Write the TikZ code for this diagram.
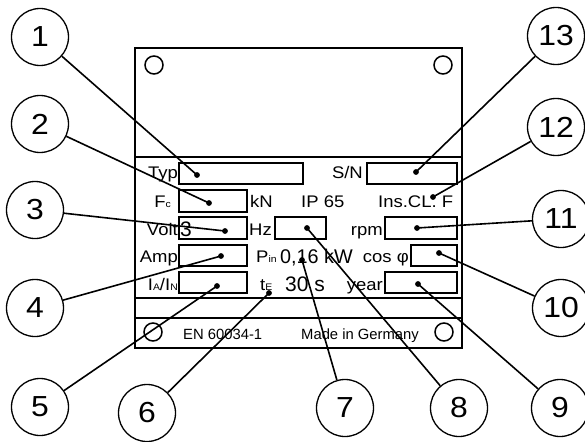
\documentclass[tikz,border=0pt]{standalone}
\usepackage{fontspec}
\setmainfont{Liberation Sans}[FakeStretch=1.1]
\newfontfamily\plainfont{Liberation Sans}
\newcommand\subtx[1]{{\fontsize{9.5}{10}\selectfont #1}}
\begin{document}
\begin{tikzpicture}[x=1pt,y=-1pt,
  plate/.style={line width=1.7pt},
  fieldbox/.style={line width=1.6pt},
  lbl/.style={inner sep=0pt,font=\fontsize{16.8}{18}\selectfont},
  bigtx/.style={inner sep=0pt,font=\plainfont\fontsize{21}{22}\selectfont},
  smalltx/.style={inner sep=0pt,font=\plainfont\fontsize{14.8}{16}\selectfont},
  numc/.style={circle,draw,line width=1.3pt,minimum size=57pt,inner sep=0pt,font=\fontsize{29}{30}\selectfont},
  lead/.style={line width=1.6pt},
  hole/.style={line width=1.5pt}]
\useasboundingbox (0,0) rectangle (585,441);
% plate
\draw[plate] (135,48) rectangle (462,348);
\draw[plate] (135,157) -- (462,157);
\draw[plate] (135,298) -- (462,298);
\draw[plate] (135,318) -- (462,318);
% holes
\draw[hole] (154,65) circle (9pt);
\draw[hole] (443,65) circle (9pt);
\draw[hole] (153,332) circle (9pt);
\draw[hole] (444,332) circle (9pt);
% field boxes
\draw[fieldbox] (179,163) rectangle (303,184);
\draw[fieldbox] (367,163) rectangle (457,184);
\draw[fieldbox] (179,190) rectangle (247,212);
\draw[fieldbox] (179,217) rectangle (247,239);
\draw[fieldbox] (179,245) rectangle (247,266);
\draw[fieldbox] (179,272) rectangle (247,293);
\draw[fieldbox] (275,217) rectangle (326,239);
\draw[fieldbox] (385,217) rectangle (457,239);
\draw[fieldbox] (411,245) rectangle (457,266);
\draw[fieldbox] (385,272) rectangle (457,293);
% texts
\node[lbl,anchor=base east] (typ) at (178,178) {Typ};
\node[lbl,anchor=base east] (sn) at (363,178) {S/N};
\node[lbl,anchor=base east] (fc) at (171,207) {F\subtx{c}};
\node[lbl,anchor=base west] (kn) at (250,207) {kN};
\node[lbl,anchor=base west] (ip) at (301,207) {IP 65};
\node[lbl,anchor=base west] (ins) at (378,207) {Ins.CL. F};
\node[lbl,anchor=base east] (volt) at (178,235) {Volt};
\node[bigtx,anchor=base west] (three) at (180,236) {3};
\node[lbl,anchor=base west] (hz) at (249,235) {Hz};
\node[lbl,anchor=base east] (rpm) at (383,235) {rpm};
\node[lbl,anchor=base east] (amp) at (178,262) {Amp};
\node[lbl,anchor=base west] (pin) at (256,262) {P\subtx{in}};
\node[bigtx,anchor=base west,font=\plainfont\fontsize{19.8}{22}\selectfont] (pw) at (280,263) {0,16 kW};
\node[lbl,anchor=base east] (cos) at (409,262) {cos φ};
\node[lbl,anchor=base east] (ia) at (178,290) {I\subtx{A}/I\subtx{N}};
\node[lbl,anchor=base west] (te) at (260,290) {t\subtx{E}};
\node[bigtx,anchor=base west] (ts) at (285,291) {30 s};
\node[lbl,anchor=base east] (yr) at (383,290) {year};
\node[smalltx,anchor=base west] (en) at (183,339) {EN 60034-1};
\node[smalltx,anchor=base west] (mig) at (301,339) {Made in Germany};
% callout circles
\node[numc] (c1) at (40,37) {1};
\node[numc] (c2) at (40,124) {2};
\node[numc] (c3) at (35,210) {3};
\node[numc] (c4) at (35,308) {4};
\node[numc] (c5) at (40,407) {5};
\node[numc] (c6) at (147,413) {6};
\node[numc] (c7) at (345,408) {7};
\node[numc] (c8) at (459,408) {8};
\node[numc] (c9) at (560,408) {9};
\node[numc] (c10) at (561,308) {10};
\node[numc] (c11) at (561,219) {11};
\node[numc] (c12) at (556,127) {12};
\node[numc] (c13) at (556,36) {13};
% dots
\coordinate (d1) at (197,175);
\coordinate (d2) at (209,203);
\coordinate (d3) at (225,231);
\coordinate (d4) at (221,256);
\coordinate (d5) at (217,286);
\coordinate (d6) at (269,293);
\coordinate (d7) at (302,260);
\coordinate (d8) at (307,228);
\coordinate (d9) at (418,284);
\coordinate (d10) at (439,253);
\coordinate (d11) at (417,228);
\coordinate (d12) at (433,197);
\coordinate (d13) at (416,172);
\foreach \i in {1,...,13}{
  \draw[lead] (c\i) -- (d\i);
  \fill (d\i) circle (2.9pt);
}
\end{tikzpicture}
\end{document}
